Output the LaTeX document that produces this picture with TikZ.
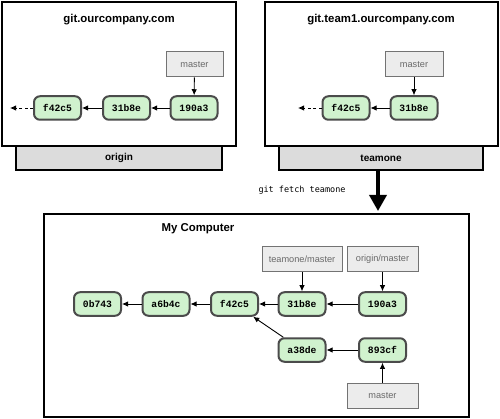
\documentclass[tikz,border=0pt]{standalone}
\usepackage{fontspec}
\setmainfont{Liberation Sans}
\newfontfamily\monob{Liberation Mono}
\newfontfamily\dmono{DejaVu Sans Mono}
\usetikzlibrary{arrows.meta}
\definecolor{cfill}{RGB}{208,242,206}
\definecolor{cborder}{RGB}{75,75,75}
\definecolor{rfill}{RGB}{236,236,236}
\definecolor{rborder}{RGB}{115,115,115}
\definecolor{rtext}{RGB}{105,105,105}
\definecolor{tfill}{RGB}{220,220,220}
\begin{document}
\begin{tikzpicture}[x=1pt,y=-1pt,
  commit/.style={draw=cborder, line width=2pt, fill=cfill, rounded corners=6pt,
    minimum width=47pt, minimum height=23.5pt, inner sep=0pt,
    font=\monob\bfseries\fontsize{9.7}{11}\selectfont},
  refbox/.style={draw=rborder, line width=1pt, fill=rfill, minimum height=25pt,
    inner sep=0pt, text=rtext, font=\fontsize{9.2}{11}\selectfont},
  frame/.style={draw=black, line width=1.6pt, fill=white, inner sep=0pt},
  tabbox/.style={draw=black, line width=1.3pt, fill=tfill, minimum height=24pt,
    inner sep=0pt, font=\bfseries\fontsize{10}{12}\selectfont},
  title/.style={font=\bfseries\fontsize{11.4}{13}\selectfont},
  arr/.style={-{Latex[length=6pt,width=5.5pt]}, line width=0.9pt}
]
\useasboundingbox (0,0) rectangle (500,419);
% tabs
\node[tabbox, minimum width=206pt] (origin) at (119,158) {origin};
\node[tabbox, minimum width=204pt] (teamone) at (381,158) {teamone};
% frames
\node[frame, minimum width=234pt, minimum height=144pt] (srv1) at (119,74) {};
\node[frame, minimum width=233pt, minimum height=144pt] (srv2) at (381.5,74) {};
\node[frame, minimum width=425pt, minimum height=203pt] (mine) at (256.5,315.5) {};
% titles
\node[title] (t1) at (119,20) {git.ourcompany.com};
\node[title] (t2) at (381,20) {git.team1.ourcompany.com};
\node[title] (t3) at (198,229) {My Computer};
% server 1
\node[refbox, minimum width=57pt] (m1) at (194.5,64.5) {master};
\node[commit] (a190) at (194,108) {190a3};
\node[commit] (a31b) at (126.5,108) {31b8e};
\node[commit] (af42) at (57.5,108) {f42c5};
\coordinate (d1) at (10,108);
\draw[arr] (m1) -- (a190);
\draw[arr] (a190) -- (a31b);
\draw[arr] (a31b) -- (af42);
\draw[arr, dash pattern=on 3pt off 2.5pt] (af42) -- (d1);
% server 2
\node[refbox, minimum width=58pt] (m2) at (414,64.5) {master};
\node[commit] (b31b) at (414,108) {31b8e};
\node[commit] (bf42) at (346,108) {f42c5};
\coordinate (d2) at (298,108);
\draw[arr] (m2) -- (b31b);
\draw[arr] (b31b) -- (bf42);
\draw[arr, dash pattern=on 3pt off 2.5pt] (bf42) -- (d2);
% fetch arrow
\coordinate (ftop) at (378,170);
\coordinate (fbot) at (378,211);
\draw[line width=3.5pt, -{Triangle[length=16pt,width=17pt]}] (ftop) -- (fbot);
\node[font=\dmono\fontsize{8.5}{10}\selectfont] (cmd) at (302,190) {git fetch teamone};
% my computer
\node[refbox, minimum width=80pt] (tm) at (302,259.5) {teamone/master};
\node[refbox, minimum width=71pt] (om) at (382.5,259.5) {origin/master};
\node[commit] (c0b7) at (97.5,304) {0b743};
\node[commit] (ca6b) at (166,304) {a6b4c};
\node[commit] (cf42) at (234.5,304) {f42c5};
\node[commit] (c31b) at (302,304) {31b8e};
\node[commit] (c190) at (382.5,304) {190a3};
\node[commit] (ca38) at (302,350) {a38de};
\node[commit] (c893) at (382.5,350) {893cf};
\node[refbox, minimum width=71pt] (mm) at (382.5,395.5) {master};
\draw[arr] (tm) -- (c31b);
\draw[arr] (om) -- (c190);
\draw[arr] (c190) -- (c31b);
\draw[arr] (c31b) -- (cf42);
\draw[arr] (cf42) -- (ca6b);
\draw[arr] (ca6b) -- (c0b7);
\draw[arr] (c893) -- (ca38);
\draw[arr] (ca38) -- (cf42);
\draw[arr] (mm) -- (c893);
\end{tikzpicture}
\end{document}
